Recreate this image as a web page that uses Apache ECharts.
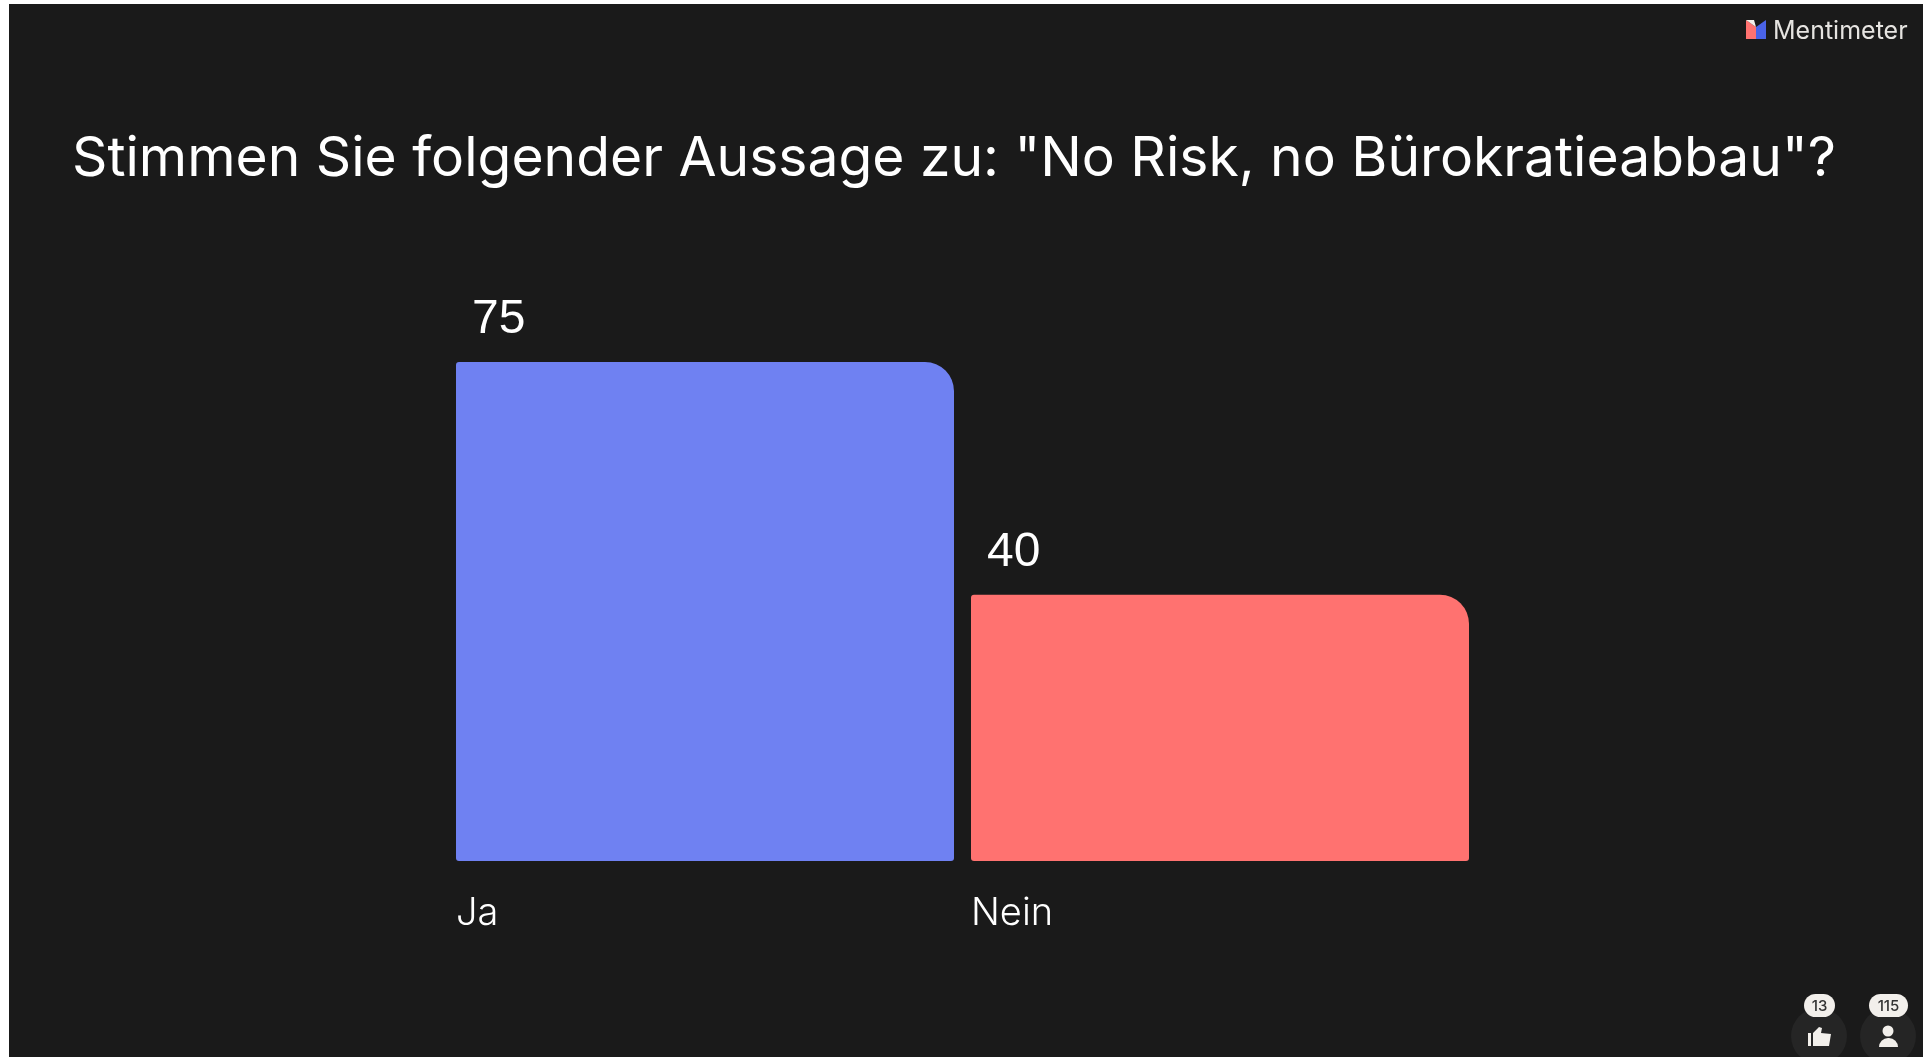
<!DOCTYPE html>
<html>
<head>
<meta charset="utf-8">
<title>Mentimeter</title>
<style>
  html, body { margin: 0; padding: 0; background: #fff; }
  #chart { width: 1923px; height: 1057px; }
</style>
<script src="https://cdn.jsdelivr.net/npm/echarts@6/dist/echarts.min.js"></script>
</head>
<body>
<div id="chart"></div>
<script>
var questionTitle = 'Stimmen Sie folgender Aussage zu: "No Risk, no Bürokratieabbau"?';
var categories = ['Ja', 'Nein'];
var votes = [75, 40];
var barColors = ['#6f81f2', '#ff7270'];
var brandName = 'Mentimeter';
var likeCount = '13';
var voterCount = '115';

var textFont = 'Inter';
var pale = '#f2efeb';
var bg = '#1a1a1a';

var chart = echarts.init(document.getElementById('chart'));

chart.setOption({
  animation: false,
  backgroundColor: bg,
  title: {
    text: questionTitle,
    left: 67,
    top: 127,
    textStyle: { color: '#fff', fontFamily: textFont, fontWeight: 400, fontSize: 55.2 }
  },
  grid: { left: 447.5, width: 1030, top: 362, height: 499 },
  xAxis: {
    type: 'category',
    data: categories,
    axisLine: { show: false },
    axisTick: { show: false },
    axisLabel: {
      interval: 0,
      margin: 31,
      // box as wide as the bar so the name sits at the bar's left edge
      formatter: function (name) { return '{n|' + name + '}'; },
      rich: {
        n: { width: 498, align: 'left', color: '#fff', fontFamily: textFont, fontWeight: 300, fontSize: 38, lineHeight: 44 }
      }
    }
  },
  yAxis: { type: 'value', min: 0, max: 75, show: false, splitLine: { show: false } },
  series: [{
    type: 'bar',
    barWidth: 498,
    data: votes.map(function (v, i) {
      return { value: v, itemStyle: { color: barColors[i] } };
    }),
    itemStyle: { borderRadius: [3, 29, 3, 3] },
    label: {
      show: true,
      position: [16, -66],
      color: '#fff',
      fontFamily: 'Liberation Sans',
      fontSize: 48
    }
  }],
  graphic: [
    // white strips of the screenshot
    { type: 'rect', shape: { x: 0, y: 0, width: 9, height: 1057 }, style: { fill: '#fff' } },
    { type: 'rect', shape: { x: 0, y: 0, width: 1923, height: 4 }, style: { fill: '#fff' } },
    // logo
    { type: 'polygon', shape: { points: [[1746, 20], [1756, 27], [1756, 39], [1746, 39]] }, style: { fill: '#ff7270' } },
    { type: 'polygon', shape: { points: [[1746, 20], [1754, 20], [1756, 27]] }, style: { fill: '#f5f0ea' } },
    { type: 'polygon', shape: { points: [[1756, 27], [1766, 20], [1766, 39], [1756, 39]] }, style: { fill: '#4a63e8' } },
    { type: 'text', x: 1773, y: 31, style: { text: brandName, fill: '#e6e4e1', font: '400 25px Inter', textVerticalAlign: 'middle' } },
    // reaction circles
    { type: 'circle', shape: { cx: 1819, cy: 1036, r: 28 }, style: { fill: '#252525' } },
    { type: 'circle', shape: { cx: 1888, cy: 1036, r: 28 }, style: { fill: '#252525' } },
    { type: 'rect', shape: { x: 1804, y: 994, width: 31, height: 23, r: 11.5 }, style: { fill: pale } },
    { type: 'rect', shape: { x: 1869, y: 994, width: 39, height: 23, r: 11.5 }, style: { fill: pale } },
    { type: 'text', x: 1819.5, y: 1006, style: { text: likeCount, fill: '#333', font: '500 15px Inter', textAlign: 'center', textVerticalAlign: 'middle' } },
    { type: 'text', x: 1888.5, y: 1006, style: { text: voterCount, fill: '#333', font: '500 15px Inter', textAlign: 'center', textVerticalAlign: 'middle' } },
    // thumb icon
    { type: 'rect', shape: { x: 1808, y: 1033, width: 3, height: 13 }, style: { fill: pale } },
    { type: 'polygon', shape: { points: [[1813, 1033], [1819, 1027], [1822, 1028], [1821, 1033], [1831, 1034], [1829, 1046], [1813, 1046]] }, style: { fill: pale } },
    // person icon
    { type: 'circle', shape: { cx: 1888, cy: 1031, r: 5.5 }, style: { fill: pale } },
    { type: 'rect', shape: { x: 1879, y: 1038, width: 19, height: 9, r: [9, 9, 0, 0] }, style: { fill: pale } }
  ]
});
</script>
</body>
</html>
